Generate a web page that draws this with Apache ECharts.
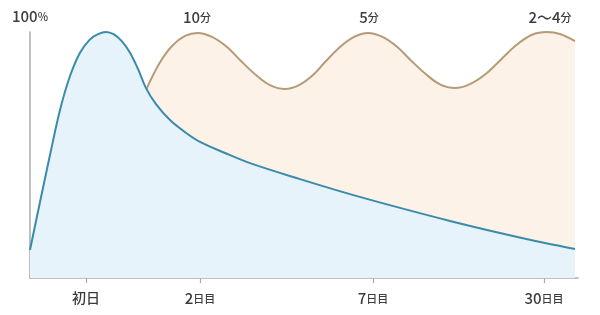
<!DOCTYPE html>
<html><head><meta charset="utf-8">
<script src="https://cdn.jsdelivr.net/npm/echarts@6/dist/echarts.min.js"></script>
<style>html,body{margin:0;padding:0;background:#fff}#c{width:600px;height:315px}</style>
</head><body><div id="c"></div>
<script>
// Retention curve (blue) — x position, percent
var blueX = [0,10,20,30,40,50,60,68,76,84,92,100,108,116,126,140,155,170,195,220,270,320,370,420,470,515,545];
var blueY = [11.4,30.9,50,68.3,82.1,91.6,97,99.1,100,99,96.2,91.6,85,77.2,70.7,64.2,59.3,55.3,50.8,46.7,40.2,34.1,28.5,23.2,18.3,14.2,11.8];
// Review curve (tan)
var tanX = [116,129,142,155,168,182,197,211,226,240,255,269,283,296,310,324,338,352,367,381,396,410,425,440,456,471,486,502,517,530,545];
var tanY = [76.4,87,94.3,98.4,99.6,98,93.9,88.2,82.5,78.4,76.8,78.4,82.5,88.2,93.9,98,99.6,98.1,94,88.4,82.8,78.7,77.2,78.8,83,88.8,94.6,98.9,100,99.2,96.3];
// Tick labels
var bottomTicks = [56,170,343,514];
var bottomNum = ['', '2', '7', '30'];
var bottomText = ['初日', '日目', '日目', '日目'];
var topTicks = [167,339,520];
var topNum = ['10', '5', '2〜4'];
var topText = ['分', '分', '分'];

function pairs(xs, ys){ return xs.map(function(x,i){ return [x, ys[i]]; }); }
var font = '"Noto Sans CJK JP", "Noto Sans", sans-serif';
var rich = {
  a:{fontSize:15, color:'#3c3c3c', fontFamily:font, fontWeight:500},
  b:{fontSize:11, color:'#3c3c3c', fontFamily:font, fontWeight:500},
  c:{fontSize:14, color:'#3c3c3c', fontFamily:font, fontWeight:500}
};
var chart = echarts.init(document.getElementById('c'), null, {renderer:'canvas'});
chart.setOption({
  animation:false,
  grid:{left:30, right:22, top:32, bottom:37},
  xAxis:[{
    type:'value', min:0, max:548, position:'bottom',
    axisLine:{show:true, lineStyle:{color:'#aaa', width:1.5}},
    axisTick:{show:true, customValues:bottomTicks, length:5, lineStyle:{color:'#aaa', width:1.2}},
    axisLabel:{show:true, customValues:bottomTicks, margin:13, rich:rich,
      formatter:function(v){ var i = bottomTicks.indexOf(v); if(i<0) return '';
        return bottomNum[i] ? '{a|'+bottomNum[i]+'}{b|'+bottomText[i]+'}' : '{c|'+bottomText[i]+'}'; }},
    splitLine:{show:false}
  },{
    type:'value', min:0, max:548, position:'top',
    axisLine:{show:false}, axisTick:{show:false},
    axisLabel:{show:true, customValues:topTicks, margin:7, rich:rich,
      formatter:function(v){ var i = topTicks.indexOf(v); if(i<0) return '';
        return '{a|'+topNum[i]+'}{b|'+topText[i]+'}'; }},
    splitLine:{show:false}
  }],
  yAxis:{
    type:'value', min:0, max:100,
    name:'{a|100}{b|%}', nameLocation:'end', nameGap:8,
    nameTextStyle:{rich:rich},
    axisLine:{show:true, lineStyle:{color:'#aaa', width:1.5}},
    axisTick:{show:false}, axisLabel:{show:false}, splitLine:{show:false}
  },
  series:[{
    type:'line', data:pairs(tanX, tanY), smooth:0.35, symbol:'none',
    lineStyle:{color:'#b59b78', width:2},
    areaStyle:{color:'#fdf2e7', opacity:1}, z:2
  },{
    type:'line', data:pairs(blueX, blueY), smooth:0.35, symbol:'none',
    lineStyle:{color:'#3a8bab', width:2},
    areaStyle:{color:'#e7f3fa', opacity:1}, z:3
  }]
});
</script></body></html>
